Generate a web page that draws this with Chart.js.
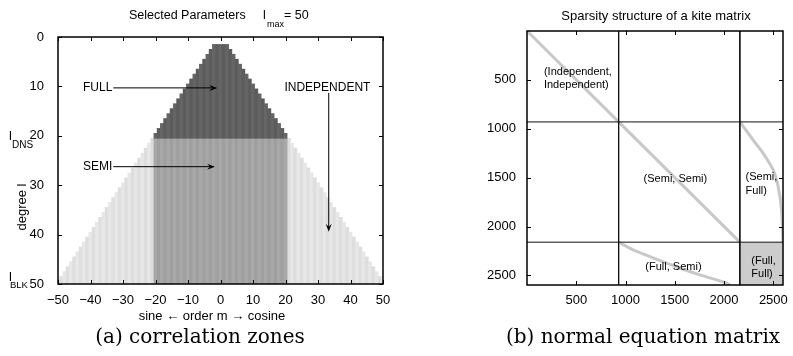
<!DOCTYPE html>
<html>
<head>
<meta charset="utf-8">
<script src="https://cdn.jsdelivr.net/npm/chart.js@4.4.1/dist/chart.umd.min.js"></script>
<style>
  html, body { margin: 0; padding: 0; background: #fff; }
  #wrap { position: relative; width: 793px; height: 356px; overflow: hidden; }
  canvas { position: absolute; top: 0; }
  .cap { position: absolute; font-family: 'DejaVu Serif', serif; font-size: 20px; color: #000; white-space: nowrap; transform: translateX(-50%); }
</style>
</head>
<body>
<div id="wrap">
  <canvas id="zones" width="400" height="356" style="left:0;width:400px;height:356px"></canvas>
  <canvas id="kite" width="393" height="356" style="left:400px;width:393px;height:356px"></canvas>
  <div class="cap" style="left:200px;top:324px">(a) correlation zones</div>
  <div class="cap" style="left:643px;top:324px">(b) normal equation matrix</div>
</div>
<script>
'use strict';
Chart.defaults.font.family = "'Liberation Sans', Arial, sans-serif";
Chart.defaults.font.size = 13;
Chart.defaults.color = '#000';

// (a) correlation zones: one column per order m, starting at its first degree
var orders = [-50,-49,-48,-47,-46,-45,-44,-43,-42,-41,-40,-39,-38,-37,-36,-35,-34,-33,-32,-31,
  -30,-29,-28,-27,-26,-25,-24,-23,-22,-21,-20,-19,-18,-17,-16,-15,-14,-13,-12,-11,
  -10,-9,-8,-7,-6,-5,-4,-3,-2,-1,0,1,2,3,4,5,6,7,8,9,10,11,12,13,14,15,16,17,18,19,20,
  21,22,23,24,25,26,27,28,29,30,31,32,33,34,35,36,37,38,39,40,41,42,43,44,45,46,47,48,49,50];
var firstDegree = [50,49,48,47,46,45,44,43,42,41,40,39,38,37,36,35,34,33,32,31,
  30,29,28,27,26,25,24,23,22,21,20,19,18,17,16,15,14,13,12,11,
  10,9,8,7,6,5,4,3,2,2,2,2,2,3,4,5,6,7,8,9,10,11,12,13,14,15,16,17,18,19,20,
  21,22,23,24,25,26,27,28,29,30,31,32,33,34,35,36,37,38,39,40,41,42,43,44,45,46,47,48,49,50];
var lDNS = 20;
var lBLK = 50;
var zoneXTicks = [-50,-40,-30,-20,-10,0,10,20,30,40,50];
var zoneYTicks = [0,10,20,30,40,50];

// (b) kite matrix: block edges and the grey nonzero traces (column, row)
var blockEdges = [930, 2160];
var nParams = 2597;
var kiteTicks = [500,1000,1500,2000,2500];
var indepDiagCol = [1, 930];
var indepDiagRow = [1, 930];
var semiDiagCol = [930, 2160];
var semiDiagRow = [930, 2160];
var semiFullCol = [2160, 2295, 2397, 2498, 2549, 2583, 2597];
var semiFullRow = [930, 1115, 1251, 1421, 1592, 1830, 2160];
var fullSemiCol = [930, 1078, 1247, 1417, 1585, 1755, 1924, 2025, 2060];
var fullSemiRow = [2160, 2239, 2308, 2375, 2437, 2495, 2546, 2580, 2597];

var fullBars = [], semiBars = [], indepBars = [];
orders.forEach(function(m, i) {
  var top = firstDegree[i] - 0.5;
  if (Math.abs(m) <= lDNS) {
    fullBars.push({x: m, y: [top, lDNS + 0.5]});
    semiBars.push({x: m, y: [lDNS + 0.5, lBLK + 0.5]});
  } else {
    indepBars.push({x: m, y: [top, lBLK + 0.5]});
  }
});

// alternate the column shade a little, like the pcolor plaid
function shade(a, b) {
  return function(ctx) { return ctx.raw && Math.abs(ctx.raw.x) % 2 ? a : b; };
}

function font(size) { return size + "px 'Liberation Sans', Arial, sans-serif"; }

function text(c, s, x, y, size, align, base) {
  c.font = font(size);
  c.textAlign = align || 'left';
  c.textBaseline = base || 'alphabetic';
  c.fillStyle = '#000';
  c.fillText(s, x, y);
}

function arrow(c, x1, y1, x2, y2) {
  var ang = Math.atan2(y2 - y1, x2 - x1), len = 8, w = 3;
  c.strokeStyle = '#000';
  c.lineWidth = 1;
  c.beginPath();
  c.moveTo(x1, y1);
  c.lineTo(x2 - Math.cos(ang) * 4, y2 - Math.sin(ang) * 4);
  c.stroke();
  c.fillStyle = '#000';
  c.beginPath();
  c.moveTo(x2, y2);
  c.lineTo(x2 - len * Math.cos(ang) + w * Math.sin(ang), y2 - len * Math.sin(ang) - w * Math.cos(ang));
  c.lineTo(x2 - 5 * Math.cos(ang), y2 - 5 * Math.sin(ang));
  c.lineTo(x2 - len * Math.cos(ang) - w * Math.sin(ang), y2 - len * Math.sin(ang) + w * Math.cos(ang));
  c.closePath();
  c.fill();
}

// matlab style box with inward ticks on all four sides
function boxAndTicks(chart, tick) {
  var a = chart.chartArea, c = chart.ctx, xs = chart.scales.x, ys = chart.scales.y;
  c.save();
  c.strokeStyle = '#000';
  c.lineWidth = 1;
  c.beginPath();
  xs.ticks.forEach(function(t) {
    var p = Math.round(xs.getPixelForValue(t.value)) + 0.5;
    c.moveTo(p, a.bottom); c.lineTo(p, a.bottom - tick);
    c.moveTo(p, a.top); c.lineTo(p, a.top + tick);
  });
  ys.ticks.forEach(function(t) {
    var p = Math.round(ys.getPixelForValue(t.value)) + 0.5;
    c.moveTo(a.left, p); c.lineTo(a.left + tick, p);
    c.moveTo(a.right, p); c.lineTo(a.right - tick, p);
  });
  c.stroke();
  c.lineWidth = 1.5;
  c.strokeRect(a.left, a.top, a.right - a.left, a.bottom - a.top);
  c.restore();
}

var zonesDecor = {
  id: 'zonesDecor',
  afterDraw: function(chart) {
    var c = chart.ctx, xs = chart.scales.x, ys = chart.scales.y;
    var X = function(v) { return xs.getPixelForValue(v); };
    var Y = function(v) { return ys.getPixelForValue(v); };
    boxAndTicks(chart, 4);
    c.save();
    // title with subscript
    text(c, 'Selected Parameters', 129, 19, 12.5);
    text(c, 'l', 263, 19, 12.5);
    text(c, 'max', 267, 27, 9);
    text(c, '= 50', 284, 19, 12.5);
    // axis titles
    c.save();
    c.translate(22, 207);
    c.rotate(-Math.PI / 2);
    text(c, 'degree l', 0, 0, 13, 'center', 'middle');
    c.restore();
    text(c, 'l', 9, 140, 13);
    text(c, 'DNS', 12, 148, 10);
    text(c, 'l', 9, 281, 13);
    text(c, 'BLK', 10, 288, 9.5);
    text(c, 'sine \u2190 order m \u2192 cosine', 212, 320, 13, 'center');
    // zone annotations
    text(c, 'FULL', X(-42.3), Y(10.2), 12, 'left', 'middle');
    arrow(c, X(-33), Y(10.3), X(-1), Y(10.3));
    text(c, 'SEMI', X(-42.3), Y(26.2), 12, 'left', 'middle');
    arrow(c, X(-33), Y(26.25), X(-1.7), Y(26.25));
    text(c, 'INDEPENDENT', X(32.9), Y(10.2), 12, 'center', 'middle');
    arrow(c, X(33.3), Y(11.3), X(33.3), Y(39.4));
    c.restore();
  }
};

new Chart(document.getElementById('zones'), {
  type: 'bar',
  data: {
    datasets: [
      {label: 'FULL', data: fullBars, backgroundColor: shade('#5c5c5c', '#656565')},
      {label: 'SEMI', data: semiBars, backgroundColor: shade('#9f9f9f', '#a8a8a8')},
      {label: 'INDEPENDENT', data: indepBars, backgroundColor: shade('#dedede', '#e7e7e7')}
    ]
  },
  options: {
    responsive: false,
    animation: false,
    layout: {padding: {top: 37, right: 17, left: 0, bottom: 0}},
    plugins: {legend: {display: false}, tooltip: {enabled: false}},
    datasets: {bar: {grouped: false, barPercentage: 1, categoryPercentage: 1, borderWidth: 0}},
    scales: {
      x: {
        type: 'linear', min: -50, max: 50, offset: false,
        grid: {display: false}, border: {display: false},
        afterBuildTicks: function(s) { s.ticks = zoneXTicks.map(function(v) { return {value: v}; }); },
        afterFit: function(s) { s.height = 72; },
        ticks: {padding: 1, maxRotation: 0, autoSkip: false,
          callback: function(v) { return String(v).replace('-', '\u2212'); }}
      },
      y: {
        type: 'linear', reverse: true, min: 0, max: 50,
        grid: {display: false}, border: {display: false},
        afterBuildTicks: function(s) { s.ticks = zoneYTicks.map(function(v) { return {value: v}; }); },
        afterFit: function(s) { s.width = 58; },
        ticks: {padding: 6, autoSkip: false}
      }
    }
  },
  plugins: [zonesDecor]
});

// ---- (b) sparsity structure ----
function pts(cols, rows) {
  return cols.map(function(v, i) { return {x: v, y: rows[i]}; });
}
var kiteMin = 0, kiteMax = nParams + 1;
var edgeLine = '#111111', trace = '#c8c8c8';
var kiteSets = [];
blockEdges.forEach(function(e) {
  kiteSets.push({data: pts([kiteMin, kiteMax], [e, e]), borderColor: edgeLine, borderWidth: 1});
  kiteSets.push({data: pts([e, e], [kiteMin, kiteMax]), borderColor: edgeLine, borderWidth: 1});
});
kiteSets.push({data: pts(indepDiagCol, indepDiagRow), borderColor: trace, borderWidth: 3});
kiteSets.push({data: pts(semiDiagCol, semiDiagRow), borderColor: trace, borderWidth: 3});
kiteSets.push({data: pts(semiFullCol, semiFullRow), borderColor: trace, borderWidth: 3, tension: 0.3});
kiteSets.push({data: pts(fullSemiCol, fullSemiRow), borderColor: trace, borderWidth: 3, tension: 0.3});
kiteSets.push({data: pts([blockEdges[1], nParams], [blockEdges[1], blockEdges[1]]),
  borderWidth: 0, backgroundColor: '#cccccc', fill: {value: nParams}});

var kiteDecor = {
  id: 'kiteDecor',
  afterDraw: function(chart) {
    var c = chart.ctx, xs = chart.scales.x, ys = chart.scales.y;
    var X = function(v) { return xs.getPixelForValue(v); };
    var Y = function(v) { return ys.getPixelForValue(v); };
    boxAndTicks(chart, 4);
    c.save();
    text(c, 'Sparsity structure of a kite matrix', 256, 20, 13, 'center');
    text(c, '(Independent,', X(172), Y(419), 11, 'left', 'middle');
    text(c, 'Independent)', X(172), Y(552), 11, 'left', 'middle');
    text(c, '(Semi, Semi)', X(1506), Y(1513), 11, 'center', 'middle');
    text(c, '(Semi,', X(2218), Y(1493), 11, 'left', 'middle');
    text(c, 'Full)', X(2218), Y(1636), 11, 'left', 'middle');
    text(c, '(Full, Semi)', X(1486), Y(2413), 11, 'center', 'middle');
    text(c, '(Full,', X(2277), Y(2352), 11, 'left', 'middle');
    text(c, 'Full)', X(2277), Y(2485), 11, 'left', 'middle');
    c.restore();
  }
};

new Chart(document.getElementById('kite'), {
  type: 'scatter',
  data: {datasets: kiteSets},
  options: {
    responsive: false,
    animation: false,
    layout: {padding: {top: 31, right: 10, left: 0, bottom: 0}},
    plugins: {legend: {display: false}, tooltip: {enabled: false}},
    datasets: {scatter: {showLine: true, pointRadius: 0, fill: false}},
    scales: {
      x: {
        type: 'linear', min: kiteMin, max: kiteMax,
        grid: {display: false}, border: {display: false},
        afterBuildTicks: function(s) { s.ticks = kiteTicks.map(function(v) { return {value: v}; }); },
        afterFit: function(s) { s.height = 71; },
        ticks: {padding: 0, maxRotation: 0, autoSkip: false, callback: function(v) { return String(v); }}
      },
      y: {
        type: 'linear', reverse: true, min: kiteMin, max: kiteMax,
        grid: {display: false}, border: {display: false},
        afterBuildTicks: function(s) { s.ticks = kiteTicks.map(function(v) { return {value: v}; }); },
        afterFit: function(s) { s.width = 127; },
        ticks: {padding: 3, autoSkip: false, callback: function(v) { return String(v); }}
      }
    }
  },
  plugins: [kiteDecor]
});
</script>
</body>
</html>
